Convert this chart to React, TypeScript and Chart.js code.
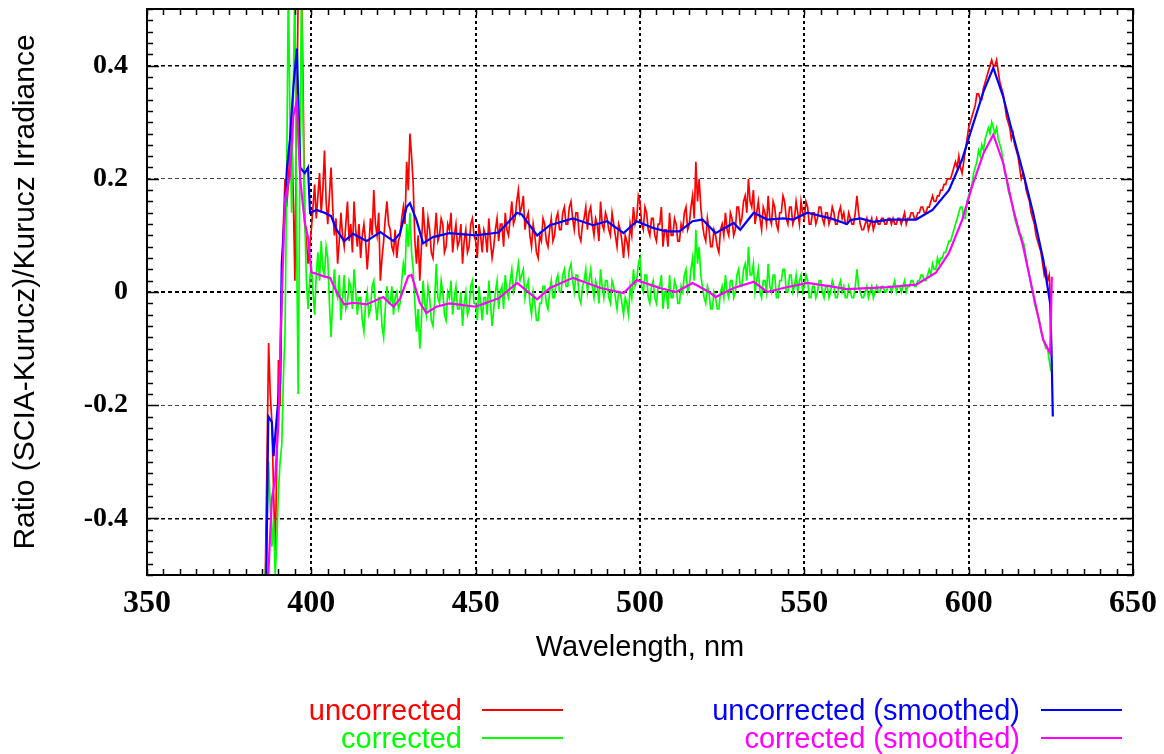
import React, { useEffect, useRef } from "react";
import { Chart, registerables } from "chart.js";

Chart.register(...registerables);

// ---------- DATA ----------
// Noisy spectra sampled every 0.5 nm starting at 386 nm
const NOISY_START_NM = 386;
const NOISY_STEP_NM = 0.5;

const uncorrected = [
  -0.50, -0.30, -0.09, -0.18, -0.23, -0.35, -0.46, -0.30, -0.12, -0.20,
  0.00, 0.12, 0.20, 0.15, 0.19, 0.26, 0.29, 0.17, 0.02, 0.30,
  0.52, 0.60, 0.55, 0.36, 0.12, 0.09, 0.05, 0.08, 0.11, 0.15,
  0.19, 0.13, 0.17, 0.21, 0.14, 0.18, 0.25, 0.16, 0.12, 0.17,
  0.22, 0.15, 0.10, 0.13, 0.05, 0.09, 0.14, 0.10, 0.08, 0.12,
  0.16, 0.09, 0.12, 0.07, 0.16, 0.11, 0.08, 0.12, 0.06, 0.10,
  0.12, 0.09, 0.04, 0.08, 0.13, 0.10, 0.18, 0.12, 0.10, 0.14,
  0.02, 0.06, 0.09, 0.13, 0.16, 0.12, 0.11, 0.08, 0.07, 0.11,
  0.06, 0.09, 0.10, 0.13, 0.15, 0.12, 0.23, 0.18, 0.28, 0.24,
  0.19, 0.09, 0.05, 0.10, 0.02, 0.08, 0.15, 0.11, 0.08, 0.13,
  0.11, 0.07, 0.06, 0.10, 0.14, 0.09, 0.10, 0.13, 0.12, 0.07,
  0.08, 0.12, 0.11, 0.14, 0.07, 0.10, 0.12, 0.08, 0.09, 0.12,
  0.05, 0.09, 0.11, 0.07, 0.08, 0.12, 0.13, 0.10, 0.09, 0.06,
  0.12, 0.10, 0.07, 0.11, 0.10, 0.07, 0.13, 0.09, 0.06, 0.08,
  0.11, 0.13, 0.09, 0.12, 0.12, 0.08, 0.14, 0.11, 0.10, 0.13,
  0.16, 0.12, 0.13, 0.16, 0.18, 0.14, 0.15, 0.17, 0.11, 0.13,
  0.14, 0.10, 0.08, 0.12, 0.10, 0.07, 0.06, 0.10, 0.09, 0.13,
  0.12, 0.09, 0.08, 0.11, 0.13, 0.09, 0.10, 0.13, 0.14, 0.11,
  0.11, 0.14, 0.15, 0.12, 0.12, 0.15, 0.16, 0.13, 0.11, 0.14,
  0.14, 0.10, 0.09, 0.12, 0.13, 0.15, 0.11, 0.14, 0.15, 0.12,
  0.10, 0.13, 0.12, 0.09, 0.16, 0.12, 0.11, 0.14, 0.13, 0.11,
  0.10, 0.14, 0.12, 0.10, 0.08, 0.12, 0.11, 0.09, 0.06, 0.10,
  0.09, 0.07, 0.12, 0.10, 0.15, 0.12, 0.13, 0.17, 0.16, 0.12,
  0.11, 0.15, 0.14, 0.11, 0.10, 0.13, 0.13, 0.10, 0.09, 0.12,
  0.12, 0.15, 0.08, 0.11, 0.11, 0.08, 0.14, 0.10, 0.10, 0.13,
  0.12, 0.09, 0.09, 0.12, 0.11, 0.14, 0.15, 0.11, 0.12, 0.15,
  0.17, 0.13, 0.23, 0.16, 0.20, 0.15, 0.12, 0.10, 0.09, 0.13,
  0.11, 0.08, 0.08, 0.11, 0.10, 0.08, 0.07, 0.11, 0.12, 0.10,
  0.14, 0.11, 0.10, 0.14, 0.13, 0.10, 0.11, 0.15, 0.15, 0.12,
  0.13, 0.16, 0.17, 0.14, 0.20, 0.16, 0.15, 0.18, 0.12, 0.14,
  0.16, 0.13, 0.11, 0.15, 0.14, 0.12, 0.17, 0.13, 0.12, 0.16,
  0.15, 0.12, 0.11, 0.14, 0.14, 0.17, 0.16, 0.13, 0.12, 0.15,
  0.15, 0.12, 0.13, 0.16, 0.14, 0.12, 0.16, 0.14, 0.13, 0.16,
  0.15, 0.12, 0.12, 0.14, 0.14, 0.12, 0.13, 0.15, 0.15, 0.13,
  0.12, 0.14, 0.14, 0.12, 0.13, 0.15, 0.14, 0.12, 0.12, 0.14,
  0.15, 0.13, 0.14, 0.12, 0.12, 0.14, 0.13, 0.12, 0.12, 0.14,
  0.17, 0.14, 0.12, 0.11, 0.11, 0.12, 0.13, 0.11, 0.12, 0.13,
  0.11, 0.12, 0.13, 0.12, 0.12, 0.13, 0.13, 0.12, 0.12, 0.13,
  0.13, 0.12, 0.13, 0.12, 0.12, 0.13, 0.13, 0.12, 0.13, 0.14,
  0.12, 0.13, 0.13, 0.14, 0.14, 0.13, 0.13, 0.14, 0.14, 0.15,
  0.15, 0.14, 0.14, 0.15, 0.15, 0.16, 0.17, 0.16, 0.16, 0.17,
  0.17, 0.18, 0.18, 0.19, 0.19, 0.20, 0.20, 0.20, 0.21, 0.22,
  0.23, 0.22, 0.24, 0.22, 0.21, 0.23, 0.25, 0.27, 0.29, 0.30,
  0.31, 0.32, 0.33, 0.35, 0.35, 0.34, 0.34, 0.36, 0.37, 0.38,
  0.39, 0.40, 0.41, 0.40, 0.40, 0.41, 0.39, 0.37, 0.36, 0.35,
  0.33, 0.31, 0.30, 0.29, 0.27, 0.28, 0.26, 0.25, 0.24, 0.22,
  0.20, 0.21, 0.20, 0.18, 0.17, 0.16, 0.14, 0.13, 0.12, 0.10,
  0.09, 0.08, 0.07, 0.05, 0.03, 0.04, 0.02, 0.03, -0.03,
];

const corrected = [
  -0.50, -0.42, -0.30, -0.38, -0.45, -0.40, -0.50, -0.44, -0.35, -0.30,
  -0.27, -0.15, -0.07, 0.20, 0.55, 0.30, 0.14, 0.35, 0.55, 0.10,
  -0.18, 0.20, 0.55, 0.30, 0.13, 0.02, -0.03, 0.02, 0.05, 0.00,
  -0.04, 0.03, 0.07, 0.02, 0.09, 0.04, 0.03, 0.08, 0.06, -0.02,
  -0.08, -0.01, 0.04, 0.00, -0.01, 0.03, -0.05, -0.01, 0.03, -0.03,
  -0.02, 0.02, 0.01, -0.03, 0.04, 0.00, -0.04, -0.01, -0.01, -0.05,
  -0.07, -0.02, 0.00, -0.04, -0.03, 0.01, 0.02, -0.02, -0.05, -0.01,
  -0.01, -0.06, -0.08, -0.03, 0.01, -0.02, -0.02, 0.01, -0.04, -0.01,
  0.00, -0.03, -0.02, 0.02, 0.05, 0.03, 0.12, 0.08, 0.14, 0.07,
  0.04, -0.02, -0.07, -0.03, -0.10, -0.05, 0.02, -0.02, -0.04, 0.01,
  -0.01, -0.05, -0.06, -0.02, 0.05, -0.01, -0.02, 0.02, 0.00, -0.04,
  -0.05, 0.00, -0.01, 0.02, -0.04, -0.01, 0.01, -0.03, -0.03, 0.00,
  -0.06, -0.02, 0.00, -0.04, -0.03, 0.01, 0.02, -0.02, -0.02, -0.05,
  0.01, -0.02, -0.05, -0.01, -0.01, -0.04, 0.02, -0.02, -0.06, -0.03,
  0.00, 0.02, -0.03, 0.00, 0.01, -0.03, 0.03, 0.00, -0.01, 0.02,
  0.04, 0.00, 0.01, 0.03, 0.05, 0.02, 0.03, 0.04, -0.01, 0.01,
  0.02, -0.02, -0.04, 0.00, -0.02, -0.05, -0.05, -0.02, -0.02, 0.01,
  0.01, -0.02, -0.03, 0.00, 0.02, -0.01, -0.01, 0.02, 0.03, 0.00,
  0.00, 0.03, 0.04, 0.01, 0.01, 0.04, 0.05, 0.02, 0.00, 0.03,
  0.03, -0.01, -0.02, 0.01, 0.02, 0.04, 0.00, 0.02, 0.04, 0.01,
  -0.01, 0.02, 0.01, -0.02, 0.04, 0.01, -0.01, 0.02, 0.02, -0.01,
  -0.02, 0.02, 0.01, -0.01, -0.03, 0.00, 0.00, -0.02, -0.04, -0.01,
  -0.02, -0.04, 0.01, -0.01, 0.04, 0.01, 0.02, 0.05, 0.06, 0.01,
  0.00, 0.03, 0.03, -0.01, -0.02, 0.01, 0.02, -0.01, -0.02, 0.01,
  0.01, 0.03, -0.03, 0.00, 0.00, -0.03, 0.03, -0.01, -0.01, 0.02,
  0.01, -0.02, -0.02, 0.01, 0.00, 0.03, 0.04, 0.00, 0.01, 0.04,
  0.06, 0.02, 0.11, 0.05, 0.08, 0.03, 0.01, -0.01, -0.02, 0.01,
  0.00, -0.03, -0.03, 0.00, -0.01, -0.03, -0.03, 0.00, 0.01, -0.01,
  0.03, 0.00, -0.01, 0.02, 0.02, -0.01, 0.00, 0.03, 0.04, 0.01,
  0.01, 0.04, 0.05, 0.02, 0.08, 0.03, 0.03, 0.05, 0.00, 0.02,
  0.04, 0.00, -0.01, 0.02, 0.02, 0.00, 0.05, 0.01, 0.00, 0.03,
  0.03, -0.01, -0.01, 0.02, 0.02, 0.04, 0.04, 0.00, 0.00, 0.03,
  0.03, 0.00, 0.01, 0.03, 0.00, 0.02, 0.03, 0.00, 0.01, 0.03,
  0.02, -0.01, -0.01, 0.01, 0.01, -0.01, 0.00, 0.02, 0.02, 0.00,
  -0.01, 0.01, 0.01, -0.01, 0.00, 0.02, 0.01, -0.01, -0.01, 0.01,
  0.02, 0.00, 0.01, -0.01, -0.01, 0.01, 0.00, -0.01, -0.01, 0.01,
  0.04, 0.01, 0.00, -0.01, -0.01, 0.00, 0.01, -0.01, 0.00, 0.01,
  -0.01, 0.00, 0.01, 0.00, 0.00, 0.01, 0.01, 0.00, 0.00, 0.01,
  0.01, 0.00, 0.01, 0.02, 0.00, 0.01, 0.01, 0.00, 0.01, 0.02,
  0.00, 0.01, 0.01, 0.02, 0.02, 0.01, 0.01, 0.02, 0.02, 0.03,
  0.03, 0.02, 0.02, 0.03, 0.04, 0.03, 0.05, 0.04, 0.04, 0.06,
  0.05, 0.06, 0.06, 0.07, 0.07, 0.08, 0.09, 0.09, 0.10, 0.11,
  0.12, 0.13, 0.14, 0.15, 0.15, 0.13, 0.13, 0.16, 0.17, 0.18,
  0.19, 0.21, 0.22, 0.23, 0.25, 0.24, 0.26, 0.25, 0.27, 0.28,
  0.29, 0.28, 0.30, 0.29, 0.28, 0.29, 0.27, 0.26, 0.25, 0.23,
  0.21, 0.20, 0.18, 0.17, 0.16, 0.15, 0.13, 0.12, 0.11, 0.10,
  0.10, 0.09, 0.08, 0.06, 0.04, 0.03, 0.01, 0.00, -0.02, -0.03,
  -0.04, -0.05, -0.07, -0.08, -0.09, -0.10, -0.10, -0.12, -0.14,
];

// Smoothed curves (wavelength, value)
const smoothUncorrWl = [
  386.3, 386.9, 388.0, 388.5, 389.5, 390.5, 391.0, 391.5, 392.6, 393.5,
  394.5, 395.6, 396.6, 398.0, 399.0, 399.6, 401.6, 404.0, 406.0, 407.7,
  410.0, 412.7, 416.8, 421.0, 425.0, 427.0, 429.0, 430.0, 432.0, 434.0,
  437.0, 442.0, 450.0, 457.0, 462.6, 464.0, 468.7, 472.6, 479.6, 485.7,
  490.0, 495.0, 499.0, 504.0, 508.0, 512.0, 516.0, 519.0, 523.0, 528.5,
  530.5, 534.6, 538.7, 543.6, 546.6, 550.9, 558.0, 563.0, 564.0, 567.0,
  571.0, 576.0, 584.0, 589.0, 594.0, 598.0, 601.0, 604.5, 607.5, 610.5,
  613.6, 616.6, 619.6, 622.7, 624.8, 625.2, 625.6,
];
const smoothUncorr = [
  -0.50, -0.22, -0.23, -0.29, -0.22, -0.16, 0.05, 0.10, 0.22, 0.27,
  0.36, 0.43, 0.22, 0.21, 0.22, 0.14, 0.145, 0.14, 0.134, 0.11,
  0.09, 0.103, 0.09, 0.106, 0.09, 0.104, 0.15, 0.157, 0.127, 0.086,
  0.097, 0.104, 0.10, 0.105, 0.14, 0.137, 0.10, 0.118, 0.13, 0.118,
  0.125, 0.104, 0.125, 0.113, 0.107, 0.107, 0.125, 0.128, 0.104, 0.122,
  0.11, 0.14, 0.128, 0.13, 0.128, 0.14, 0.13, 0.12, 0.127, 0.13,
  0.124, 0.128, 0.128, 0.145, 0.18, 0.234, 0.29, 0.354, 0.396, 0.345,
  0.275, 0.21, 0.14, 0.057, -0.02, -0.10, -0.22,
];

const smoothCorrWl = [
  386.9, 388.0, 389.0, 390.0, 391.0, 392.0, 393.5, 394.5, 395.6, 396.6,
  398.0, 399.0, 400.0, 401.6, 403.6, 405.7, 407.7, 410.0, 412.7, 416.8,
  421.9, 425.0, 427.0, 429.5, 430.5, 433.0, 435.0, 438.0, 442.0, 450.0,
  457.0, 462.6, 468.7, 472.6, 479.6, 488.0, 495.0, 499.0, 506.0, 511.0,
  516.0, 521.0, 523.0, 528.5, 534.6, 538.7, 543.6, 550.9, 558.0, 563.0,
  574.0, 584.0, 590.0, 594.0, 598.0, 601.0, 604.5, 607.5, 610.5, 613.6,
  616.6, 619.6, 622.7, 624.8, 625.3,
];
const smoothCorr = [
  -0.50, -0.365, -0.33, -0.23, -0.01, 0.164, 0.205, 0.31, 0.337, 0.20,
  0.123, 0.096, 0.035, 0.032, 0.028, 0.025, 0.0, -0.022, -0.019, -0.022,
  -0.009, -0.026, -0.012, 0.028, 0.03, -0.019, -0.037, -0.026, -0.02, -0.026,
  -0.011, 0.016, -0.013, 0.007, 0.025, 0.007, -0.002, 0.021, 0.007, 0.0,
  0.016, 0.0, -0.009, 0.007, 0.018, 0.0, 0.007, 0.016, 0.01, 0.005,
  0.008, 0.013, 0.034, 0.069, 0.127, 0.186, 0.245, 0.278, 0.228, 0.145,
  0.08, -0.002, -0.085, -0.108, 0.027,
];

const xTickValues = [350, 400, 450, 500, 550, 600, 650];
const yTickValues = [-0.5, -0.4, -0.2, 0, 0.2, 0.4, 0.5];

const legendItems = [
  { label: "uncorrected", color: "#ff0000" },
  { label: "corrected", color: "#00ff00" },
  { label: "uncorrected (smoothed)", color: "#0000ff" },
  { label: "corrected (smoothed)", color: "#ff00ff" },
];

// ---------- STYLE ----------
const W = 1164;
const H = 754;
const X_MIN = 350;
const X_MAX = 650;
const Y_MIN = -0.5;
const Y_MAX = 0.5;
const X_MINOR = 5;
const Y_MINOR = 0.02;

const toPoints = (xs: number[], ys: number[]) => ys.map((y, i) => ({ x: xs[i], y }));
const noisyWl = uncorrected.map((_, i) => NOISY_START_NM + i * NOISY_STEP_NM);

const framePlugin = {
  id: "frameTicks",
  afterDraw(chart: any) {
    const { ctx, chartArea: a } = chart;
    const xs = chart.scales.x;
    const ys = chart.scales.y;
    ctx.save();
    ctx.strokeStyle = "#000";
    ctx.lineWidth = 1.5;
    ctx.beginPath();
    const nx = Math.round((X_MAX - X_MIN) / X_MINOR);
    for (let k = 0; k <= nx; k++) {
      const px = Math.round(xs.getPixelForValue(X_MIN + k * X_MINOR)) + 0.5;
      ctx.moveTo(px, a.bottom);
      ctx.lineTo(px, a.bottom - 6);
      ctx.moveTo(px, a.top);
      ctx.lineTo(px, a.top + 6);
    }
    const ny = Math.round((Y_MAX - Y_MIN) / Y_MINOR);
    for (let k = 0; k <= ny; k++) {
      const v = Y_MIN + k * Y_MINOR;
      const py = Math.round(ys.getPixelForValue(v)) + 0.5;
      const major = (k - 5) % 10 === 0;
      const len = major ? 12 : 6;
      ctx.moveTo(a.left, py);
      ctx.lineTo(a.left + len, py);
      ctx.moveTo(a.right, py);
      ctx.lineTo(a.right - len, py);
    }
    ctx.stroke();
    ctx.lineWidth = 2;
    ctx.strokeRect(a.left, a.top, a.right - a.left, a.bottom - a.top);
    ctx.restore();
  },
};

export default function App() {
  const canvasRef = useRef<HTMLCanvasElement | null>(null);

  useEffect(() => {
    const canvas = canvasRef.current;
    if (!canvas) return;
    const chart = new Chart(canvas, {
      type: "line",
      data: {
        datasets: [
          {
            label: legendItems[0].label,
            data: toPoints(noisyWl, uncorrected),
            borderColor: legendItems[0].color,
            borderWidth: 1.7,
            order: 3,
          },
          {
            label: legendItems[1].label,
            data: toPoints(noisyWl, corrected),
            borderColor: legendItems[1].color,
            borderWidth: 1.7,
            order: 2,
          },
          {
            label: legendItems[2].label,
            data: toPoints(smoothUncorrWl, smoothUncorr),
            borderColor: legendItems[2].color,
            borderWidth: 2.2,
            order: 1,
          },
          {
            label: legendItems[3].label,
            data: toPoints(smoothCorrWl, smoothCorr),
            borderColor: legendItems[3].color,
            borderWidth: 2.2,
            order: 0,
          },
        ],
      },
      options: {
        responsive: false,
        animation: false,
        parsing: false as any,
        normalized: true,
        elements: {
          point: { radius: 0 },
          line: { tension: 0, fill: false },
        },
        layout: { padding: { left: 0, right: 31, top: 9, bottom: 80 } },
        plugins: {
          legend: { display: false },
          tooltip: { enabled: false },
        },
        scales: {
          x: {
            type: "linear",
            min: X_MIN,
            max: X_MAX,
            afterBuildTicks: (s: any) => {
              s.ticks = xTickValues.map((v) => ({ value: v }));
            },
            afterFit: (s: any) => {
              s.height = 99;
              s.paddingLeft = 0;
              s.paddingRight = 0;
            },
            ticks: {
              autoSkip: false,
              maxRotation: 0,
              padding: 10,
              color: "#000",
              font: { family: "'Liberation Serif', serif", size: 32, weight: "bold" },
              callback: (v: any) => String(v),
            },
            grid: {
              drawTicks: false,
              color: (c: any) =>
                c.tick && (c.tick.value === X_MIN || c.tick.value === X_MAX) ? "rgba(0,0,0,0)" : "#000",
              lineWidth: 2,
            },
            border: { display: false, dash: [3, 3] },
            title: {
              display: true,
              text: "Wavelength, nm",
              color: "#000",
              font: { family: "'Liberation Sans', Arial, sans-serif", size: 29, weight: "normal" },
              padding: { top: 0, bottom: 9 },
            },
          },
          y: {
            type: "linear",
            min: Y_MIN,
            max: Y_MAX,
            afterBuildTicks: (s: any) => {
              s.ticks = yTickValues.map((v) => ({ value: v }));
            },
            afterFit: (s: any) => {
              s.width = 147;
              s.paddingTop = 0;
              s.paddingBottom = 0;
            },
            ticks: {
              autoSkip: false,
              padding: 19,
              color: "#000",
              font: { family: "'Liberation Serif', serif", size: 28, weight: "bold" },
              callback: (v: any) => {
                if (v === Y_MIN || v === Y_MAX) return "";
                return v === 0 ? "0" : Number(v).toFixed(1);
              },
            },
            grid: {
              drawTicks: false,
              color: (c: any) => {
                const v = c.tick ? c.tick.value : 0;
                if (v === Y_MIN || v === Y_MAX) return "rgba(0,0,0,0)";
                if (Math.abs(Math.abs(v) - 0.2) < 1e-9) return "#444";
                return "#000";
              },
              lineWidth: (c: any) => {
                const v = c.tick ? c.tick.value : 0;
                if (v === 0) return 2;
                if (Math.abs(Math.abs(v) - 0.4) < 1e-9) return 1.5;
                return 1;
              },
            },
            border: { display: false, dash: [4, 3] },
            title: {
              display: true,
              text: "Ratio (SCIA-Kurucz)/Kurucz Irradiance",
              color: "#000",
              font: { family: "'Liberation Sans', Arial, sans-serif", size: 30, weight: "normal" },
              padding: { top: 8, bottom: 0 },
            },
          },
        },
      },
      plugins: [framePlugin],
    } as any);
    return () => chart.destroy();
  }, []);

  const textStyle = (color: string, right: number, top: number): React.CSSProperties => ({
    position: "absolute",
    right: W - right,
    top,
    color,
    fontFamily: "'Liberation Sans', Arial, sans-serif",
    fontSize: 29,
    lineHeight: "29px",
    whiteSpace: "nowrap",
  });
  const lineStyle = (color: string, left: number, y: number, h: number): React.CSSProperties => ({
    position: "absolute",
    left,
    top: y - h / 2,
    width: 81,
    height: h,
    background: color,
  });

  return (
    <div style={{ position: "absolute", left: 0, top: 0, width: W, height: H, background: "#fff" }}>
      <canvas ref={canvasRef} width={W} height={H} style={{ display: "block" }} />
      <div style={textStyle(legendItems[0].color, 462, 696)}>{legendItems[0].label}</div>
      <div style={lineStyle(legendItems[0].color, 482, 710, 2)} />
      <div style={textStyle(legendItems[1].color, 462, 724)}>{legendItems[1].label}</div>
      <div style={lineStyle(legendItems[1].color, 482, 738, 1.5)} />
      <div style={textStyle(legendItems[2].color, 1020, 696)}>{legendItems[2].label}</div>
      <div style={lineStyle(legendItems[2].color, 1041, 710, 2)} />
      <div style={textStyle(legendItems[3].color, 1020, 724)}>{legendItems[3].label}</div>
      <div style={lineStyle(legendItems[3].color, 1041, 738, 1.5)} />
    </div>
  );
}
